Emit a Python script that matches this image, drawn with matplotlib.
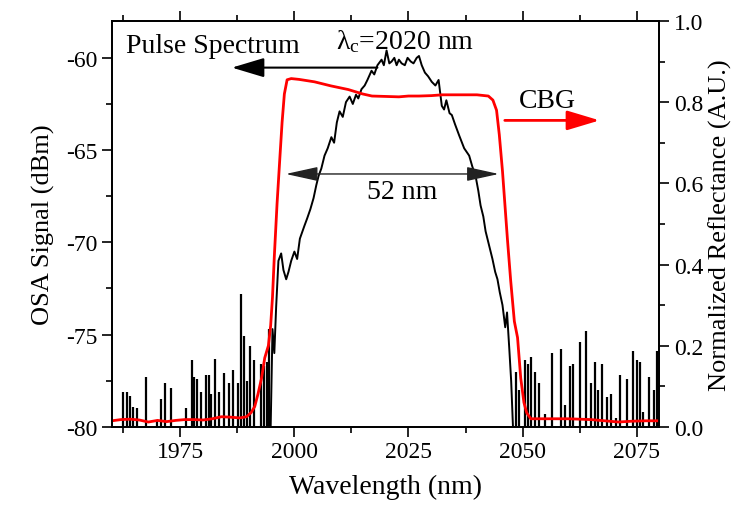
import matplotlib
matplotlib.use("Agg")
import matplotlib.pyplot as plt
from matplotlib.ticker import MultipleLocator, FormatStrFormatter

plt.rcParams["font.family"] = ["Liberation Serif", "DejaVu Serif"]
plt.rcParams["mathtext.fontset"] = "custom"
plt.rcParams["mathtext.rm"] = "Liberation Serif"
plt.rcParams["mathtext.it"] = "Liberation Serif:italic"
plt.rcParams["axes.unicode_minus"] = False

# Pulse spectrum (dBm), main body
spec_wl = [1994.8, 1995.2, 1995.6, 1996.0, 1996.5, 1997.1, 1997.6, 1998.2, 1998.7, 1999.3,
           2000.0, 2000.6, 2001.2, 2002.2, 2002.8, 2003.5, 2004.2, 2004.8, 2005.3, 2005.9,
           2006.6, 2007.3, 2008.1, 2008.7, 2009.3, 2009.9, 2010.6, 2011.3, 2012.1, 2012.8,
           2013.5, 2014.0, 2014.7, 2015.4, 2016.0, 2016.9, 2017.5, 2018.2, 2019.1, 2019.6,
           2020.2, 2020.8, 2021.3, 2021.9, 2022.4, 2022.9, 2023.5, 2024.2, 2024.8, 2025.5,
           2026.1, 2026.8, 2027.3, 2027.9, 2028.6, 2029.3, 2030.1, 2030.9, 2031.6, 2032.3,
           2032.8, 2033.3, 2034.0, 2034.5, 2035.2, 2036.1, 2037.2, 2038.3, 2039.0, 2039.7,
           2040.3, 2040.8, 2041.4, 2041.9, 2042.6, 2043.4, 2044.0, 2044.5, 2045.0, 2045.6,
           2046.2, 2046.6, 2047.1, 2047.5, 2047.9]
spec_db = [-80.0, -74.7, -76.0, -73.5, -71.0, -70.6, -71.5, -72.0, -71.6, -71.0,
           -70.5, -70.9, -69.8, -69.1, -68.7, -68.2, -67.6, -66.9, -66.4, -66.0,
           -65.3, -64.9, -64.3, -64.6, -63.5, -62.9, -63.2, -62.4, -62.1, -62.5,
           -62.0, -62.2, -61.7, -61.5, -61.2, -60.7, -60.9, -60.4, -60.1, -60.4,
           -59.6, -60.3, -60.2, -60.0, -60.4, -60.1, -60.3, -60.4, -60.0, -60.2,
           -60.3, -60.0, -59.9, -60.4, -60.8, -61.0, -61.3, -61.5, -61.2, -62.6,
           -62.8, -62.3, -63.0, -63.1, -63.6, -64.2, -64.9, -65.3, -65.9, -66.4,
           -67.2, -68.0, -68.6, -69.4, -70.1, -70.9, -71.6, -72.0, -72.7, -73.4,
           -74.6, -73.8, -75.8, -77.5, -80.0]

# Noise spikes above the -80 dBm floor
spike_wl = [1962.5, 1963.4, 1964.0, 1964.6, 1965.6, 1967.5, 1969.9, 1970.7, 1971.6, 1972.9,
            1976.2, 1977.5, 1978.0, 1978.7, 1979.6, 1980.7, 1981.3, 1981.8, 1982.6, 1983.5,
            1984.6, 1985.6, 1986.6, 1987.6, 1988.4, 1988.9, 1989.6, 1990.3, 1991.2, 1992.6,
            1993.3, 1993.9, 1994.5,
            2048.5, 2049.2, 2050.6, 2051.1, 2051.8, 2052.8, 2053.7, 2055.0, 2056.4, 2058.4,
            2059.3, 2060.4, 2061.1, 2062.6, 2063.9, 2065.0, 2065.9, 2066.6, 2067.3, 2068.4,
            2069.4, 2070.5, 2071.4, 2072.8, 2074.2, 2075.0, 2075.7, 2076.5, 2077.8, 2078.9,
            2079.4, 2079.9]
spike_db = [-78.1, -78.1, -78.3, -78.9, -79.0, -77.3, -79.6, -78.5, -77.6, -77.9,
            -79.0, -76.4, -77.3, -77.4, -78.1, -77.2, -77.2, -78.2, -76.3, -78.1,
            -77.1, -77.6, -76.9, -77.6, -72.8, -75.1, -77.5, -75.6, -76.4, -76.6,
            -76.7, -76.5, -74.7,
            -77.0, -78.0, -76.4, -76.6, -76.2, -77.0, -77.6, -79.3, -76.0, -75.8,
            -78.8, -76.7, -76.6, -75.4, -74.8, -77.6, -76.5, -78.0, -76.6, -78.4,
            -78.2, -79.5, -77.2, -77.4, -75.9, -76.4, -76.5, -79.2, -77.3, -78.0,
            -75.9, -77.8]

# CBG normalized reflectance
cbg_wl = [1960, 1962, 1964, 1966, 1968, 1970, 1972, 1974, 1976, 1978,
          1980, 1982, 1984, 1986, 1988, 1989.5, 1990.5, 1991.3, 1992.0, 1992.8,
          1993.5, 1994.3, 1994.8, 1995.2, 1995.6, 1996.2, 1996.8, 1997.3, 1997.8, 1998.4,
          1999.3, 2001, 2004.4, 2008, 2011.8, 2015, 2017, 2020, 2022.9, 2025,
          2027.3, 2030, 2032.4, 2036, 2040, 2042.5, 2043.5, 2044.3, 2044.9, 2045.6,
          2046.7, 2047.4, 2048.2, 2048.9, 2049.6, 2050.3, 2050.9, 2051.8, 2055, 2060,
          2065, 2068, 2071, 2074, 2077, 2080]
cbg_r = [0.015, 0.018, 0.019, 0.017, 0.012, 0.016, 0.013, 0.016, 0.018, 0.018,
         0.017, 0.020, 0.025, 0.024, 0.022, 0.025, 0.035, 0.05, 0.08, 0.12,
         0.17, 0.20, 0.25, 0.32, 0.42, 0.55, 0.66, 0.75, 0.82, 0.855,
         0.858, 0.856, 0.85, 0.84, 0.831, 0.82, 0.815, 0.814, 0.813, 0.815,
         0.815, 0.816, 0.818, 0.818, 0.818, 0.815, 0.805, 0.78, 0.72, 0.63,
         0.46, 0.36, 0.26, 0.22, 0.12, 0.06, 0.035, 0.02, 0.02, 0.02,
         0.018, 0.015, 0.012, 0.014, 0.015, 0.015]

fig = plt.figure(figsize=(7.36, 5.10), dpi=100)
ax = fig.add_axes([0.152, 0.161, 0.744, 0.796])
ax2 = ax.twinx()

ax.vlines(spike_wl, -80, spike_db, color="black", lw=1.6)
ax.plot(spec_wl, spec_db, color="black", lw=1.4)
ax2.plot(cbg_wl, cbg_r, color="red", lw=2.0)

ax.set_xlim(1960, 2080)
ax.set_ylim(-80, -58.0)
ax2.set_ylim(0, 1.0)

ax.xaxis.set_major_locator(MultipleLocator(25))
ax.xaxis.set_minor_locator(MultipleLocator(12.5))
ax.yaxis.set_major_locator(MultipleLocator(5))
ax.yaxis.set_minor_locator(MultipleLocator(2.5))
ax2.yaxis.set_major_locator(MultipleLocator(0.2))
ax2.yaxis.set_minor_locator(MultipleLocator(0.1))
ax2.yaxis.set_major_formatter(FormatStrFormatter("%.1f"))

for a in (ax, ax2):
    a.tick_params(which="major", direction="out", length=7, width=1.2, labelsize=17)
    a.tick_params(which="minor", direction="out", length=4, width=1.2)
    for s in a.spines.values():
        s.set_linewidth(1.3)
ax.tick_params(which="both", top=True)

ax.set_xlabel("Wavelength (nm)", fontsize=20, labelpad=8)
ax.set_ylabel("OSA Signal (dBm)", fontsize=19, labelpad=8)
ax2.set_ylabel("Normalized Reflectance (A.U.)", fontsize=19, labelpad=4)

# annotations
ax2.annotate("", xy=(1985.7, 0.885), xytext=(2018.8, 0.885),
             arrowprops=dict(arrowstyle="-|>,head_length=1.0,head_width=0.3",
                             color="black", lw=1.5, mutation_scale=20))
ax2.annotate("", xy=(2067.5, 0.755), xytext=(2045.5, 0.755),
             arrowprops=dict(arrowstyle="-|>,head_length=1.0,head_width=0.3",
                             color="red", lw=2.0, mutation_scale=20))
ax2.annotate("", xy=(1997.5, 0.623), xytext=(2045.4, 0.623),
             arrowprops=dict(arrowstyle="<|-|>,head_length=1.0,head_width=0.22",
                             color="#222222", lw=1.0, mutation_scale=20))
ax2.text(1963, 0.94, "Pulse Spectrum", fontsize=20, ha="left", va="center")
ax2.text(2024.2, 0.952, r"$\mathrm{\lambda_c}$=2020 nm", fontsize=20, ha="center", va="center")
ax2.text(2049.3, 0.805, "CBG", fontsize=20, ha="left", va="center")
ax2.text(2023.6, 0.58, "52 nm", fontsize=20, ha="center", va="center")

fig.savefig("out.png", dpi=100)
